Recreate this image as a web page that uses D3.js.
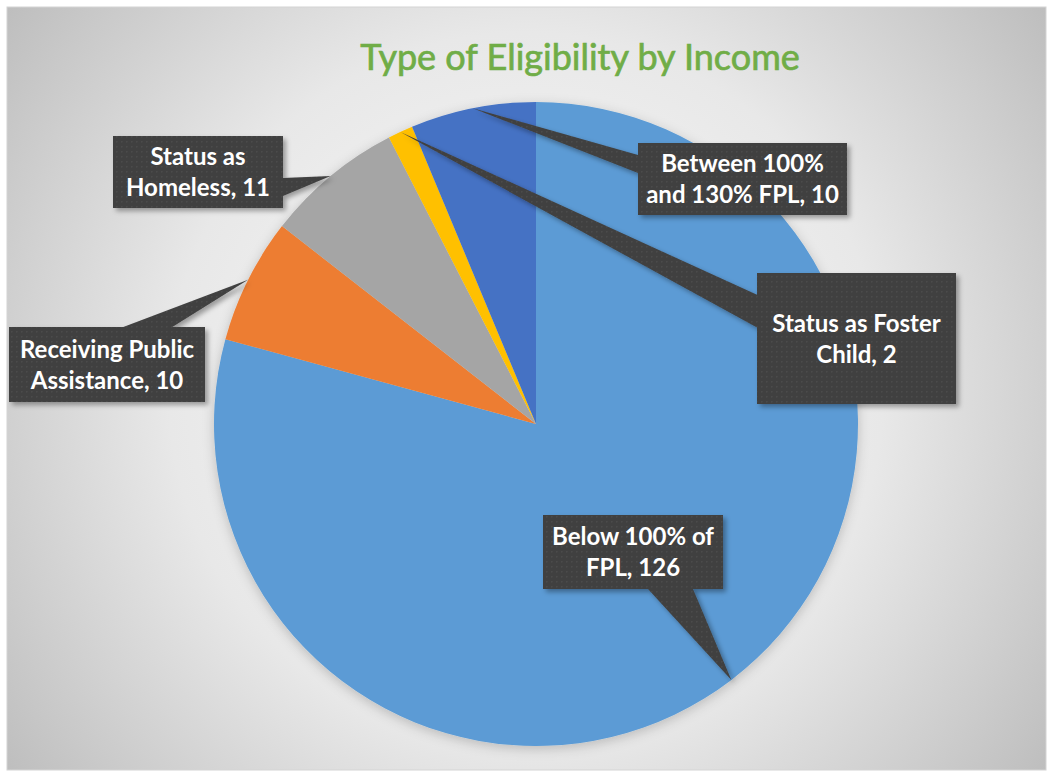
<!doctype html>
<html>
<head>
<meta charset="UTF-8" />
<title>Type of Eligibility by Income</title>
<script src="https://d3js.org/d3.v7.min.js"></script>
<style type="text/css">
body {
	margin: 0;
	background: #fff;
}
.title {
	font-family: Lato, "Open Sans", sans-serif;
	font-size: 36px;
	fill: #70ad47;
	stroke: #70ad47;
	stroke-width: 0.7px;
}
.lbl text {
	font-family: Lato, "Open Sans", sans-serif;
	font-weight: bold;
	font-size: 24px;
	fill: #fff;
	text-anchor: middle;
}
</style>
</head>
<body>
<svg id="chart"></svg>
<script>
	// data
	var categories = ["Below 100% of FPL", "Receiving Public Assistance", "Status as Homeless", "Status as Foster Child", "Between 100% and 130% FPL"];
	var values = [126, 10, 11, 2, 10];
	var colors = ["#5b9bd5", "#ed7d31", "#a5a5a5", "#ffc000", "#4472c4"];

	// label boxes (x, y, w, h) and how many words go on the first line
	var labelBoxes = [
		[543, 515, 180, 74],
		[9, 327, 196, 75],
		[113, 136, 170, 72],
		[757, 273, 199, 131],
		[638, 143, 209, 72]
	];
	var lineBreaks = [3, 2, 2, 3, 2];

	var W = 1052, H = 772;
	var cx = 536, cy = 424, r = 322;

	var svg = d3.select("#chart")
		.attr("width", W)
		.attr("height", H);

	var defs = svg.append("defs");

	var bg = defs.append("radialGradient")
		.attr("id", "bg")
		.attr("gradientUnits", "userSpaceOnUse")
		.attr("cx", 526).attr("cy", 390).attr("r", 650);
	bg.append("stop").attr("offset", "0%").attr("stop-color", "#fbfbfb");
	bg.append("stop").attr("offset", "55%").attr("stop-color", "#e8e8e8");
	bg.append("stop").attr("offset", "100%").attr("stop-color", "#bdbdbd");

	var pat = defs.append("pattern")
		.attr("id", "dots")
		.attr("patternUnits", "userSpaceOnUse")
		.attr("width", 5).attr("height", 5);
	pat.append("rect").attr("width", 5).attr("height", 5).attr("fill", "#404040");
	pat.append("rect").attr("x", 1).attr("y", 1).attr("width", 1.5).attr("height", 1.5).attr("fill", "#4c4c4c");

	var sh = defs.append("filter").attr("id", "shadow")
		.attr("x", "-20%").attr("y", "-20%").attr("width", "140%").attr("height", "140%");
	sh.append("feDropShadow").attr("dx", 3).attr("dy", 3).attr("stdDeviation", 2.5)
		.attr("flood-color", "#000").attr("flood-opacity", 0.35);

	var psh = defs.append("filter").attr("id", "pieshadow")
		.attr("x", "-10%").attr("y", "-10%").attr("width", "120%").attr("height", "120%");
	psh.append("feDropShadow").attr("dx", 0).attr("dy", 3).attr("stdDeviation", 6)
		.attr("flood-color", "#000").attr("flood-opacity", 0.2);

	// chart area
	svg.append("rect")
		.attr("x", 7).attr("y", 7)
		.attr("width", 1039).attr("height", 763)
		.attr("fill", "url(#bg)")
		.attr("stroke", "#d4d4d4")
		.attr("stroke-width", 1);

	svg.append("text")
		.attr("class", "title")
		.attr("x", 580)
		.attr("y", 70)
		.attr("text-anchor", "middle")
		.text("Type of Eligibility by Income");

	var pie = d3.pie().sort(null).value(function(d) { return d; });
	var arcs = pie(values);
	var arc = d3.arc().innerRadius(0).outerRadius(r);
	var rim = d3.arc().innerRadius(r).outerRadius(r);

	var g = svg.append("g")
		.attr("transform", "translate(" + cx + "," + cy + ")");

	g.append("g")
		.attr("filter", "url(#pieshadow)")
		.selectAll("path")
		.data(arcs)
		.enter().append("path")
		.attr("d", arc)
		.attr("fill", function(d, i) { return colors[i]; });

	// callout shape: rectangle with wedge pointing at tip (like Excel's wedgeRectCallout)
	function callout(b, tip) {
		var x = b[0], y = b[1], w = b[2], h = b[3];
		var hc = x + w / 2, vc = y + h / 2;
		var dx = tip[0] - hc, dy = tip[1] - vc;
		var dz = Math.abs(dy) - Math.abs(dx * h / w);
		var x1 = x + w * (dx > 0 ? 7 : 2) / 12, x2 = x + w * (dx > 0 ? 10 : 5) / 12;
		var y1 = y + h * (dy > 0 ? 7 : 2) / 12, y2 = y + h * (dy > 0 ? 10 : 5) / 12;
		var p = d3.path();
		p.moveTo(x, y);
		if (dz > 0 && dy < 0) { p.lineTo(x1, y); p.lineTo(tip[0], tip[1]); p.lineTo(x2, y); }
		p.lineTo(x + w, y);
		if (dz <= 0 && dx > 0) { p.lineTo(x + w, y1); p.lineTo(tip[0], tip[1]); p.lineTo(x + w, y2); }
		p.lineTo(x + w, y + h);
		if (dz > 0 && dy > 0) { p.lineTo(x2, y + h); p.lineTo(tip[0], tip[1]); p.lineTo(x1, y + h); }
		p.lineTo(x, y + h);
		if (dz <= 0 && dx < 0) { p.lineTo(x, y2); p.lineTo(tip[0], tip[1]); p.lineTo(x, y1); }
		p.closePath();
		return p.toString();
	}

	var lbl = svg.append("g").attr("class", "lbl");

	arcs.forEach(function(d, i) {
		var c = rim.centroid(d);
		var tip = [c[0] + cx, c[1] + cy];
		var b = labelBoxes[i];
		var grp = lbl.append("g");
		grp.append("path")
			.attr("d", callout(b, tip))
			.attr("fill", "url(#dots)")
			.attr("filter", "url(#shadow)");

		var words = (categories[i] + ", " + values[i]).split(" ");
		var lines = [words.slice(0, lineBreaks[i]).join(" "), words.slice(lineBreaks[i]).join(" ")];
		var lh = 31;
		lines.forEach(function(t, k) {
			grp.append("text")
				.attr("x", b[0] + b[2] / 2)
				.attr("y", b[1] + b[3] / 2 + (k - (lines.length - 1) / 2) * lh)
				.attr("dy", "0.36em")
				.text(t);
		});
	});
</script>
</body>
</html>
